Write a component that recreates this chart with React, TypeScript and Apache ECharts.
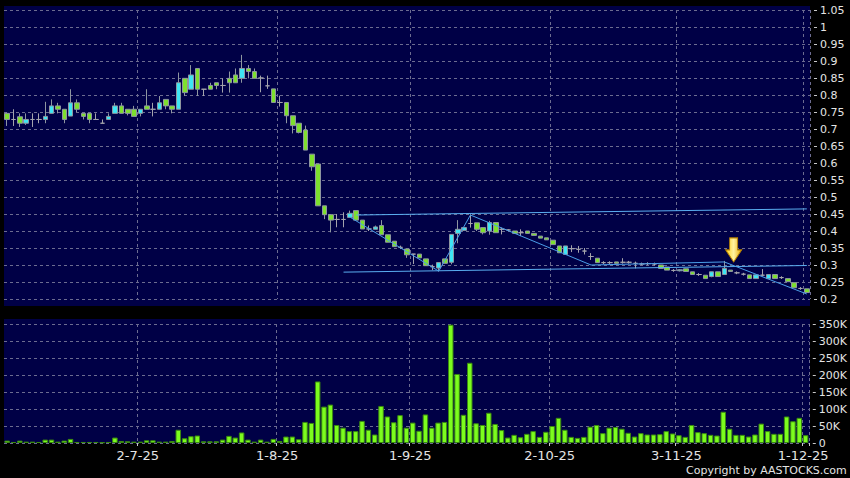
import React, { useEffect, useRef } from "react";
import * as echarts from "echarts";

// HK trading days shown on the chart (weekdays minus market holidays)
const START = "2025-06-02";
const END = "2025-12-01";
const HOLIDAYS = ["2025-07-01", "2025-10-01", "2025-10-07", "2025-10-29"];

function buildDates(): string[] {
  const out: string[] = [];
  const d = new Date(START + "T00:00:00Z");
  const end = new Date(END + "T00:00:00Z").getTime();
  while (d.getTime() <= end) {
    const wd = d.getUTCDay();
    const s = d.toISOString().slice(0, 10);
    if (wd !== 0 && wd !== 6 && !HOLIDAYS.includes(s)) out.push(s);
    d.setUTCDate(d.getUTCDate() + 1);
  }
  return out;
}
const dates = buildDates();

const opens = [
  0.746, 0.728, 0.736, 0.717, 0.728, 0.728, 0.728, 0.746, 0.768, 0.758,
  0.738, 0.777, 0.746, 0.746, 0.728, 0.717, 0.728, 0.746, 0.768, 0.758,
  0.758, 0.746, 0.768, 0.758, 0.758, 0.787, 0.768, 0.758, 0.849, 0.817,
  0.878, 0.817, 0.828, 0.836, 0.828, 0.849, 0.859, 0.849, 0.878, 0.869,
  0.85, 0.827, 0.818, 0.778, 0.778, 0.739, 0.717, 0.697, 0.626, 0.597,
  0.474, 0.448, 0.434, 0.434, 0.44, 0.46, 0.432, 0.406, 0.405, 0.416,
  0.389, 0.37, 0.352, 0.347, 0.332, 0.332, 0.318, 0.295, 0.291, 0.318,
  0.308, 0.393, 0.402, 0.422, 0.424, 0.41, 0.4, 0.425, 0.405, 0.403,
  0.4, 0.395, 0.4, 0.393, 0.385, 0.38, 0.373, 0.356, 0.331, 0.348,
  0.346, 0.341, 0.325, 0.32, 0.307, 0.307, 0.309, 0.308, 0.308, 0.305,
  0.303, 0.304, 0.303, 0.3, 0.294, 0.284, 0.283, 0.289, 0.28, 0.272,
  0.27, 0.266, 0.28, 0.272, 0.285, 0.277, 0.273, 0.271, 0.26, 0.27,
  0.26, 0.272, 0.263, 0.26, 0.248, 0.231, 0.23,
];
const closes = [
  0.728, 0.728, 0.717, 0.728, 0.728, 0.728, 0.737, 0.768, 0.758, 0.728,
  0.777, 0.758, 0.737, 0.728, 0.728, 0.717, 0.737, 0.768, 0.746, 0.746,
  0.737, 0.758, 0.758, 0.758, 0.777, 0.768, 0.758, 0.836, 0.807, 0.859,
  0.817, 0.817, 0.817, 0.828, 0.828, 0.836, 0.836, 0.878, 0.869, 0.849,
  0.85, 0.827, 0.778, 0.778, 0.739, 0.71, 0.69, 0.638, 0.589, 0.474,
  0.448, 0.432, 0.434, 0.434, 0.452, 0.432, 0.406, 0.406, 0.412, 0.389,
  0.367, 0.354, 0.352, 0.33, 0.332, 0.321, 0.298, 0.295, 0.307, 0.305,
  0.39, 0.405, 0.41, 0.422, 0.405, 0.395, 0.425, 0.395, 0.405, 0.403,
  0.393, 0.395, 0.393, 0.387, 0.379, 0.374, 0.36, 0.336, 0.356, 0.348,
  0.346, 0.341, 0.325, 0.307, 0.307, 0.307, 0.305, 0.308, 0.308, 0.305,
  0.303, 0.304, 0.303, 0.29, 0.285, 0.284, 0.286, 0.281, 0.272, 0.272,
  0.26, 0.28, 0.266, 0.29, 0.281, 0.277, 0.273, 0.26, 0.271, 0.27,
  0.272, 0.26, 0.263, 0.251, 0.233, 0.231, 0.219,
];
const lows = [
  0.709, 0.709, 0.706, 0.712, 0.706, 0.717, 0.717, 0.746, 0.746, 0.717,
  0.738, 0.75, 0.728, 0.717, 0.728, 0.717, 0.728, 0.746, 0.746, 0.74,
  0.737, 0.737, 0.758, 0.737, 0.758, 0.758, 0.746, 0.758, 0.797, 0.817,
  0.797, 0.797, 0.817, 0.817, 0.807, 0.807, 0.836, 0.836, 0.849, 0.849,
  0.808, 0.818, 0.778, 0.766, 0.717, 0.687, 0.687, 0.638, 0.577, 0.474,
  0.435, 0.396, 0.411, 0.411, 0.44, 0.432, 0.406, 0.4, 0.405, 0.389,
  0.367, 0.354, 0.347, 0.321, 0.303, 0.321, 0.298, 0.285, 0.281, 0.305,
  0.302, 0.364, 0.4, 0.41, 0.4, 0.39, 0.389, 0.395, 0.39, 0.4,
  0.393, 0.385, 0.393, 0.387, 0.379, 0.374, 0.36, 0.336, 0.331, 0.338,
  0.336, 0.331, 0.315, 0.307, 0.303, 0.303, 0.305, 0.304, 0.304, 0.29,
  0.3, 0.3, 0.299, 0.29, 0.285, 0.28, 0.281, 0.281, 0.272, 0.268,
  0.26, 0.264, 0.266, 0.272, 0.281, 0.273, 0.269, 0.26, 0.26, 0.266,
  0.26, 0.26, 0.259, 0.251, 0.233, 0.227, 0.219,
];
const highs = [
  0.748, 0.758, 0.746, 0.746, 0.746, 0.746, 0.78, 0.787, 0.777, 0.758,
  0.817, 0.787, 0.746, 0.746, 0.746, 0.728, 0.746, 0.777, 0.777, 0.758,
  0.768, 0.758, 0.817, 0.777, 0.797, 0.787, 0.768, 0.866, 0.849, 0.888,
  0.878, 0.817, 0.836, 0.836, 0.849, 0.869, 0.878, 0.918, 0.888, 0.878,
  0.857, 0.857, 0.818, 0.798, 0.778, 0.739, 0.717, 0.71, 0.626, 0.597,
  0.474, 0.448, 0.45, 0.455, 0.46, 0.46, 0.432, 0.416, 0.416, 0.432,
  0.389, 0.37, 0.357, 0.347, 0.332, 0.332, 0.318, 0.301, 0.307, 0.318,
  0.39, 0.432, 0.41, 0.449, 0.424, 0.41, 0.43, 0.425, 0.41, 0.405,
  0.4, 0.405, 0.4, 0.393, 0.385, 0.38, 0.373, 0.356, 0.356, 0.358,
  0.356, 0.35, 0.335, 0.32, 0.311, 0.311, 0.309, 0.32, 0.312, 0.31,
  0.307, 0.308, 0.307, 0.3, 0.294, 0.288, 0.288, 0.289, 0.28, 0.276,
  0.27, 0.28, 0.28, 0.312, 0.285, 0.281, 0.277, 0.271, 0.271, 0.288,
  0.272, 0.272, 0.267, 0.26, 0.248, 0.235, 0.23,
];
// volume in thousands of shares
const volumesK = [
  7, 3, 7, 4, 4, 3, 10, 10, 4, 7, 12, 3, 3, 3, 3, 2, 3, 16, 6, 5,
  4, 4, 8, 8, 4, 4, 6, 39, 14, 20, 22, 5, 5, 5, 10, 21, 16, 31, 10, 4,
  10, 4, 12, 6, 19, 19, 11, 62, 59, 181, 107, 113, 53, 45, 35, 35, 65, 39, 25, 109,
  78, 61, 82, 45, 60, 36, 84, 45, 60, 62, 348, 203, 83, 236, 58, 53, 89, 56, 38, 16,
  24, 17, 27, 35, 18, 33, 50, 74, 39, 18, 15, 18, 48, 53, 29, 45, 47, 42, 30, 19,
  29, 25, 25, 26, 35, 28, 23, 18, 53, 32, 29, 24, 22, 92, 42, 24, 24, 19, 25, 57,
  35, 27, 27, 78, 64, 74, 23,
];

// drawn trend lines: [category index, price]
const upperTrend = [[55, 0.447], [126, 0.465]];
const lowerTrend = [[53, 0.279], [126, 0.2985]];
const zigzagTrend = [[54, 0.441], [68, 0.282], [73, 0.447], [92, 0.3], [113, 0.309], [126, 0.2147]];
const arrowAt = [114, 0.309];

const GRID_COLOR = "#6c6c90";
const LABEL_COLOR = "#e4e4e4";
const FONT = "DejaVu Sans";
const NAVY = "#000046";

const isMonthStart = (i: number) => i > 0 && dates[i].slice(5, 7) !== dates[i - 1].slice(5, 7);
const fmtDate = (d: string) => `${+d.slice(8, 10)}-${+d.slice(5, 7)}-${d.slice(2, 4)}`;

export default function App() {
  const ref = useRef<HTMLDivElement>(null);
  useEffect(() => {
    if (!ref.current) return;
    const chart = echarts.init(ref.current, null, { renderer: "svg" });
    const candles = dates.map((_, i) => [opens[i], closes[i], lows[i], highs[i]]);
    const volumes = volumesK.map((k) => k * 1000);
    const vSplit = (i: number) => isMonthStart(i);
    const lineStyle = { color: "#5aaef0", width: 1 };
    chart.setOption({
      animation: false,
      backgroundColor: "#000000",
      graphic: [
        { type: "rect", z: -100, shape: { x: 4, y: 6, width: 806, height: 300 }, style: { fill: NAVY } },
        { type: "rect", z: -100, shape: { x: 4, y: 319, width: 806, height: 124 }, style: { fill: NAVY } },
        {
          type: "text",
          left: 686,
          top: 465,
          style: {
            text: "Copyright by AASTOCKS.com Ltd.",
            fill: LABEL_COLOR,
            fontFamily: FONT,
            fontSize: 11,
          },
        },
      ],
      grid: [
        { left: 4, right: 40, top: 10, height: 289 },
        { left: 4, right: 40, top: 324, height: 119 },
      ],
      xAxis: [
        {
          type: "category",
          gridIndex: 0,
          data: dates,
          boundaryGap: true,
          axisLine: { show: false },
          axisTick: { show: false },
          axisLabel: { show: false },
          splitLine: { show: true, interval: vSplit, lineStyle: { color: GRID_COLOR, type: [3, 3], width: 1 } },
        },
        {
          type: "category",
          gridIndex: 1,
          data: dates,
          boundaryGap: true,
          offset: 3,
          axisLine: { show: false },
          axisTick: { show: true, interval: vSplit, length: 3, lineStyle: { color: "#c8c8c8" } },
          axisLabel: {
            show: true,
            interval: vSplit,
            formatter: (v: string) => fmtDate(v),
            color: LABEL_COLOR,
            fontFamily: FONT,
            fontSize: 13,
            margin: 3,
            padding: [0, 5, 0, 0],
            hideOverlap: false,
          },
          splitLine: { show: true, interval: vSplit, lineStyle: { color: GRID_COLOR, type: [3, 3], width: 1 } },
        },
      ],
      yAxis: [
        {
          type: "value",
          gridIndex: 0,
          position: "right",
          offset: 4,
          min: 0.2,
          max: 1.05,
          interval: 0.05,
          axisLine: { show: false },
          axisTick: { show: true, length: 3, lineStyle: { color: "#c8c8c8" } },
          axisLabel: {
            color: LABEL_COLOR,
            fontFamily: FONT,
            fontSize: 11,
            margin: 6,
            formatter: (v: number) => String(Math.round(v * 100) / 100),
          },
          splitLine: { show: true, lineStyle: { color: GRID_COLOR, type: [3, 3], width: 1 } },
        },
        {
          type: "value",
          gridIndex: 1,
          position: "right",
          offset: 4,
          min: 0,
          max: 350000,
          interval: 50000,
          axisLine: { show: false },
          axisTick: { show: true, length: 3, lineStyle: { color: "#c8c8c8" } },
          axisLabel: {
            color: LABEL_COLOR,
            fontFamily: FONT,
            fontSize: 11,
            margin: 6,
            formatter: (v: number) => (v === 0 ? "0" : Math.round(v / 1000) + "K"),
          },
          splitLine: { show: true, lineStyle: { color: GRID_COLOR, type: [3, 3], width: 1 } },
        },
      ],
      series: [
        {
          type: "candlestick",
          xAxisIndex: 0,
          yAxisIndex: 0,
          data: candles,
          barWidth: 5,
          itemStyle: {
            color: "#3ee6f4",
            color0: "#7ee02e",
            borderColor: "#8e96a0",
            borderColor0: "#8e96a0",
            borderColorDoji: "#a4a4ac",
            borderWidth: 1,
          },
          silent: true,
        },
        {
          type: "line",
          xAxisIndex: 0,
          yAxisIndex: 0,
          data: upperTrend,
          symbol: "none",
          lineStyle,
          z: 5,
          silent: true,
        },
        {
          type: "line",
          xAxisIndex: 0,
          yAxisIndex: 0,
          data: lowerTrend,
          symbol: "none",
          lineStyle,
          z: 5,
          silent: true,
        },
        {
          type: "line",
          xAxisIndex: 0,
          yAxisIndex: 0,
          data: zigzagTrend,
          symbol: "none",
          lineStyle: { color: "#4a9ee8", width: 1 },
          z: 5,
          silent: true,
          markPoint: {
            silent: true,
            symbol: "path://M4,0 L12,0 L12,12 L16,12 L8,24 L0,12 L4,12 Z",
            symbolSize: [16, 24],
            symbolOffset: [3, "-50%"],
            label: { show: false },
            itemStyle: {
              color: new echarts.graphic.LinearGradient(0, 0, 1, 0, [
                { offset: 0, color: "#ffd21a" },
                { offset: 0.5, color: "#fff2a0" },
                { offset: 1, color: "#e8a800" },
              ]),
              borderColor: "#b88200",
              borderWidth: 1,
            },
            data: [{ coord: arrowAt }],
          },
        },
        {
          type: "bar",
          xAxisIndex: 1,
          yAxisIndex: 1,
          data: volumes,
          barWidth: 5.5,
          itemStyle: { color: "#7cfc1e", borderColor: "#3a8a10", borderWidth: 1 },
          silent: true,
        },
      ],
    });
    return () => chart.dispose();
  }, []);
  return (
    <div
      ref={ref}
      style={{ position: "fixed", left: 0, top: 0, width: 850, height: 478, background: "#000" }}
    />
  );
}
